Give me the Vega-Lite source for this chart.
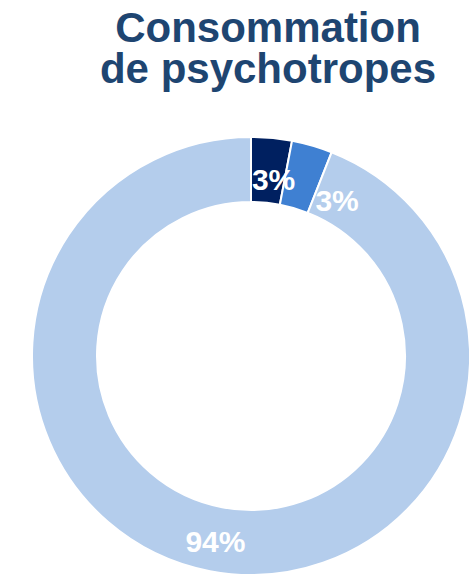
{
  "$schema": "https://vega.github.io/schema/vega-lite/v6.json",
  "width": 438,
  "height": 438,
  "autosize": {"type": "none"},
  "padding": {"left": 32, "top": 137, "right": 0, "bottom": 0},
  "background": "white",
  "title": {
    "text": ["Consommation", "de psychotropes"],
    "font": "Liberation Sans",
    "fontSize": 42,
    "fontWeight": "bold",
    "color": "#1e4571",
    "anchor": "middle",
    "baseline": "alphabetic",
    "lineHeight": 41,
    "dx": 17,
    "offset": 8
  },
  "data": {
    "values": [
      {"categorie": "Consommation régulière", "part": 0.03, "ordre": 1},
      {"categorie": "Consommation occasionnelle", "part": 0.03, "ordre": 2},
      {"categorie": "Pas de consommation", "part": 0.94, "ordre": 3}
    ]
  },
  "encoding": {
    "theta": {"field": "part", "type": "quantitative", "stack": true},
    "order": {"field": "ordre", "type": "ordinal"}
  },
  "layer": [
    {
      "mark": {"type": "arc", "outerRadius": 219, "innerRadius": 154, "stroke": "white", "strokeWidth": 2},
      "encoding": {
        "color": {
          "field": "categorie",
          "type": "nominal",
          "scale": {
            "domain": ["Consommation régulière", "Consommation occasionnelle", "Pas de consommation"],
            "range": ["#002060", "#3f80d2", "#b4cdec"]
          },
          "legend": null
        }
      }
    },
    {
      "mark": {"type": "text", "radius": 176, "dx": 6, "font": "Liberation Sans", "fontSize": 30, "fontWeight": "bold", "fill": "white", "align": "center", "baseline": "middle"},
      "encoding": {
        "text": {"field": "part", "type": "quantitative", "format": ".0%"},
        "opacity": {"condition": {"test": "datum.ordre == 1", "value": 1}, "value": 0}
      }
    },
    {
      "mark": {"type": "text", "radius": 176, "dx": 37, "dy": 15, "font": "Liberation Sans", "fontSize": 30, "fontWeight": "bold", "fill": "white", "align": "center", "baseline": "middle"},
      "encoding": {
        "text": {"field": "part", "type": "quantitative", "format": ".0%"},
        "opacity": {"condition": {"test": "datum.ordre == 2", "value": 1}, "value": 0}
      }
    },
    {
      "mark": {"type": "text", "radius": 190, "font": "Liberation Sans", "fontSize": 30, "fontWeight": "bold", "fill": "white", "align": "center", "baseline": "middle"},
      "encoding": {
        "text": {"field": "part", "type": "quantitative", "format": ".0%"},
        "opacity": {"condition": {"test": "datum.ordre == 3", "value": 1}, "value": 0}
      }
    }
  ],
  "config": {"view": {"stroke": null}}
}
